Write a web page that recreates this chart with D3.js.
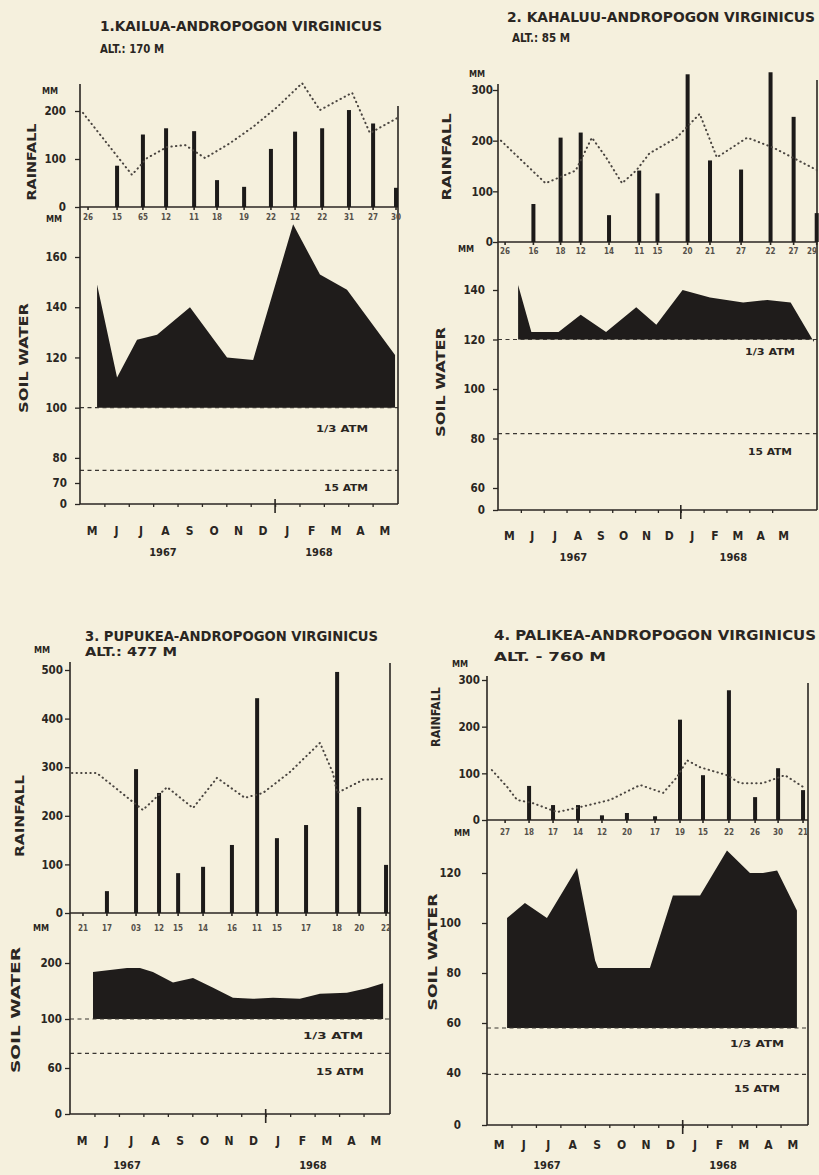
<!DOCTYPE html>
<html>
<head>
<meta charset="utf-8">
<script src="https://cdn.jsdelivr.net/npm/d3@7"></script>
<style>
  body { margin: 0; background: #f5f0dd; }
  svg text {
    font-family: "Liberation Sans Narrow", "DejaVu Sans Condensed", "Arial Narrow", sans-serif;
    font-weight: bold;
    fill: #2a2622;
  }
  .axis path.domain { display: none; }
  .axis line { stroke: #2a2622; stroke-width: 1.3; }
  .axis text { font-size: 11.5px; }
  .frame { stroke: #2a2622; stroke-width: 1.6; }
  .bar { fill: #1c1a19; }
  .soil { fill: #1f1c1b; }
  .normal { fill: none; stroke: #4a4540; stroke-width: 2; stroke-dasharray: 0.4 4.2; stroke-linecap: round; }
  .atm { stroke: #3a3632; stroke-width: 1.2; stroke-dasharray: 4 3.5; }
  .day { font-size: 8px; fill: #55504a; }
  .small { font-size: 9px; }
</style>
</head>
<body>
<svg id="fig" width="819" height="1175"></svg>
<script>
// month letters, May 1967 - May 1968
const months = ['M', 'J', 'J', 'A', 'S', 'O', 'N', 'D', 'J', 'F', 'M', 'A', 'M'];
const years = ['1967', '1968'];

// positions are in months from 1 May 1967

// 1. Kailua
const kailuaDays = ['26', '15', '65', '12', '11', '18', '19', '22', '12', '22', '31', '27', '30'];
const kailuaSamplePos = [0.33, 1.52, 2.58, 3.53, 4.68, 5.62, 6.73, 7.83, 8.82, 9.93, 11.03, 12.02, 12.96];
const kailuaRain = [0, 86, 151, 164, 158, 56, 42, 121, 157, 164, 202, 174, 40];
const kailuaNormalPos = [0.12, 2.13, 2.75, 3.57, 4.31, 5.13, 6.15, 7.10, 8.08, 9.11, 9.84, 11.16, 11.89, 13.0];
const kailuaNormal = [196, 67, 102, 125, 129, 102, 133, 167, 208, 258, 202, 238, 154, 185];
const kailuaSoilPos = [0.70, 1.52, 2.34, 3.16, 4.51, 6.03, 7.10, 8.74, 9.84, 10.95, 12.92];
const kailuaSoil = [149, 112, 127, 129, 140, 120, 119, 173, 153, 147, 121];

// 2. Kahaluu
const kahaluuDays = ['26', '16', '18', '12', '14', '11', '15', '20', '21', '27', '22', '27', '29'];
const kahaluuSamplePos = [0.31, 1.55, 2.74, 3.62, 4.86, 6.18, 6.98, 8.30, 9.28, 10.64, 11.93, 12.94, 13.95];
const kahaluuRain = [0, 75, 206, 216, 53, 141, 96, 331, 161, 143, 335, 247, 57];
const kahaluuNormalPos = [0.13, 2.08, 3.40, 4.11, 4.73, 5.43, 6.05, 6.63, 7.82, 8.83, 9.58, 10.91, 12.06, 14.0];
const kahaluuNormal = [200, 116, 141, 206, 167, 116, 141, 175, 206, 253, 167, 206, 186, 141];
const kahaluuSoilPos = [0.88, 1.46, 2.65, 3.62, 4.73, 6.05, 6.93, 8.08, 9.28, 10.73, 11.79, 12.81, 13.83];
const kahaluuSoil = [142, 123, 123, 130, 123, 133, 126, 140, 137, 135, 136, 135, 119];

// 3. Pupukea
const pupukeaDays = ['21', '17', '03', '12', '15', '14', '16', '11', '15', '17', '18', '20', '22'];
const pupukeaSamplePos = [0.53, 1.51, 2.70, 3.64, 4.42, 5.44, 6.62, 7.65, 8.46, 9.65, 10.92, 11.82, 12.92];
const pupukeaRain = [0, 45, 296, 247, 82, 95, 140, 442, 154, 181, 496, 218, 99];
const pupukeaNormalPos = [0.08, 1.10, 2.98, 3.97, 5.03, 6.01, 7.15, 7.89, 8.99, 10.22, 10.75, 10.92, 11.98, 12.76];
const pupukeaNormal = [288, 288, 212, 259, 216, 278, 237, 247, 290, 350, 288, 247, 274, 276];
const pupukeaSoilPos = [0.94, 2.33, 2.86, 3.39, 4.21, 5.03, 5.85, 6.66, 7.48, 8.30, 9.40, 10.22, 11.32, 12.14, 12.80];
const pupukeaSoil = [184, 191, 191, 184, 165, 173, 156, 138, 136, 138, 136, 145, 147, 155, 164];

// 4. Palikea
const palikeaDays = ['27', '18', '17', '14', '12', '20', '17', '19', '15', '22', '26', '30', '21'];
const palikeaSamplePos = [0.74, 1.72, 2.70, 3.72, 4.70, 5.72, 6.87, 7.89, 8.83, 9.89, 10.96, 11.90, 12.92];
const palikeaRain = [0, 73, 32, 32, 10, 15, 8, 215, 96, 278, 49, 111, 64];
const palikeaNormalPos = [0.20, 0.82, 1.23, 1.88, 2.86, 3.68, 5.03, 6.26, 7.20, 7.77, 8.18, 8.71, 9.81, 10.34, 11.28, 12.18, 12.92];
const palikeaNormal = [107, 71, 43, 36, 17, 26, 43, 75, 58, 92, 128, 113, 96, 79, 79, 96, 71];
const palikeaSoilPos = [0.82, 1.55, 2.45, 3.68, 4.42, 4.54, 6.66, 7.60, 8.71, 9.81, 10.75, 11.28, 11.86, 12.67];
const palikeaSoil = [102, 108, 102, 122, 85, 82, 82, 111, 111, 129, 120, 120, 121, 105];

const panels = [
  {
    title: '1.KAILUA-ANDROPOGON VIRGINICUS', alt: 'ALT.: 170 M',
    days: kailuaDays, samplePos: kailuaSamplePos, rain: kailuaRain,
    normalPos: kailuaNormalPos, normal: kailuaNormal,
    soilPos: kailuaSoilPos, soil: kailuaSoil,
    rainTicks: [0, 100, 200], soilTicks: [0, 70, 80, 100, 120, 140, 160],
    fieldCap: 100, wilt: 75,
    xRange: [80, 397], rightX: 398, frameTop: 84, rightTop: 106,
    rainDomain: [0, 200], rainRange: [207, 111],
    soilDomain: [0, 70, 160], soilRange: [504, 483, 257],
    rainPad: 9, soilPad: 8,
    title_: [100, 31, 282], alt_: [100, 53, 64],
    mmRain: [50, 94], mmDate: [54, 222], dateY: 220,
    rainLabel: [32, 162, 77], soilLabel: [24, 358, 110],
    monthY: 535, yearY: 556, yearPos: [3.4, 9.8],
    atmLabel: [342, 429, 52], wiltLabel: [346, 488, 44]
  },
  {
    title: '2. KAHALUU-ANDROPOGON VIRGINICUS', alt: 'ALT.: 85 M',
    days: kahaluuDays, samplePos: kahaluuSamplePos, rain: kahaluuRain,
    normalPos: kahaluuNormalPos, normal: kahaluuNormal,
    soilPos: kahaluuSoilPos, soil: kahaluuSoil,
    rainTicks: [0, 100, 200, 300], soilTicks: [0, 60, 80, 100, 120, 140],
    fieldCap: 120, wilt: 82,
    xRange: [498, 795], rightX: 817, frameTop: 84, rightTop: 80,
    rainDomain: [0, 300], rainRange: [242, 90],
    soilDomain: [0, 60, 140], soilRange: [510, 488, 290],
    rainPad: 0, soilPad: 8,
    title_: [507, 22, 308], alt_: [512, 42, 58],
    mmRain: [477, 77], mmDate: [466, 252], dateY: 254,
    rainLabel: [447, 157, 87], soilLabel: [441, 382, 110],
    monthY: 540, yearY: 561, yearPos: [3.3, 10.3],
    atmLabel: [770, 352, 50], wiltLabel: [770, 452, 44]
  },
  {
    title: '3. PUPUKEA-ANDROPOGON VIRGINICUS', alt: 'ALT.: 477 M',
    days: pupukeaDays, samplePos: pupukeaSamplePos, rain: pupukeaRain,
    normalPos: pupukeaNormalPos, normal: pupukeaNormal,
    soilPos: pupukeaSoilPos, soil: pupukeaSoil,
    rainTicks: [0, 100, 200, 300, 400, 500], soilTicks: [0, 60, 100, 200],
    fieldCap: 100, wilt: 72,
    xRange: [70, 388], rightX: 390, frameTop: 662, rightTop: 663,
    rainDomain: [0, 500], rainRange: [913, 670],
    soilDomain: [0, 60, 100, 200], soilRange: [1114, 1068, 1019, 963],
    rainPad: 2, soilPad: 3,
    title_: [85, 641, 293], alt_: [85, 656, 92],
    mmRain: [42, 653], mmDate: [41, 931], dateY: 931,
    rainLabel: [20, 816, 82], soilLabel: [16, 1010, 126],
    monthY: 1145, yearY: 1169, yearPos: [2.33, 9.93],
    atmLabel: [333, 1036, 60], wiltLabel: [340, 1072, 48]
  },
  {
    title: '4. PALIKEA-ANDROPOGON VIRGINICUS', alt: 'ALT. - 760 M',
    days: palikeaDays, samplePos: palikeaSamplePos, rain: palikeaRain,
    normalPos: palikeaNormalPos, normal: palikeaNormal,
    soilPos: palikeaSoilPos, soil: palikeaSoil,
    rainTicks: [0, 100, 200, 300], soilTicks: [0, 40, 60, 80, 100, 120],
    fieldCap: 58, wilt: 39,
    xRange: [487, 805], rightX: 808, frameTop: 676, rightTop: 683,
    rainDomain: [0, 300], rainRange: [820, 680],
    soilDomain: [0, 40, 140], soilRange: [1125, 1073, 823],
    rainPad: 2, soilPad: 21,
    title_: [494, 640, 322], alt_: [494, 661, 112],
    mmRain: [460, 667], mmDate: [462, 836], dateY: 835,
    rainLabel: [436, 717, 60], soilLabel: [433, 952, 117],
    monthY: 1149, yearY: 1169, yearPos: [2.45, 9.65],
    atmLabel: [757, 1044, 54], wiltLabel: [757, 1089, 46]
  }
];

const W = 819;
const svg = d3.select('#fig');

function drawPanel(p) {
  const g = svg.append('g');
  const x = d3.scaleLinear().domain([0, months.length]).range(p.xRange);
  const yR = d3.scaleLinear().domain(p.rainDomain).range(p.rainRange);
  const yS = d3.scaleLinear().domain(p.soilDomain).range(p.soilRange);
  const x0 = p.xRange[0];
  const yBottom = yS(0);

  // soil water above 1/3 atm
  const soilPts = d3.zip(p.soilPos, p.soil);
  g.append('path')
    .attr('class', 'soil')
    .attr('d', d3.area()
      .x(d => x(d[0]))
      .y0(yS(p.fieldCap))
      .y1(d => yS(d[1]))(soilPts));

  // 1/3 atm and 15 atm levels
  [p.fieldCap, p.wilt].forEach(v => {
    g.append('line').attr('class', 'atm')
      .attr('x1', x0).attr('x2', p.rightX)
      .attr('y1', yS(v)).attr('y2', yS(v));
  });

  // frame
  g.append('line').attr('class', 'frame')
    .attr('x1', x0).attr('x2', x0).attr('y1', p.frameTop).attr('y2', yBottom);
  g.append('line').attr('class', 'frame')
    .attr('x1', p.rightX).attr('x2', p.rightX).attr('y1', p.rightTop).attr('y2', yBottom);
  g.append('line').attr('class', 'frame')
    .attr('x1', x0).attr('x2', p.rightX).attr('y1', yR(0)).attr('y2', yR(0));
  g.append('line').attr('class', 'frame')
    .attr('x1', x0).attr('x2', p.rightX).attr('y1', yBottom).attr('y2', yBottom);

  // rainfall bars
  const samples = d3.zip(p.samplePos, p.rain, p.days);
  g.selectAll('rect.bar')
    .data(samples.filter(d => d[1] > 0))
    .join('rect')
      .attr('class', 'bar')
      .attr('x', d => x(d[0]) - 2)
      .attr('width', 4)
      .attr('y', d => yR(d[1]))
      .attr('height', d => yR(0) - yR(d[1]));

  // sampling dates below baseline
  g.selectAll('line.stick')
    .data(samples)
    .join('line')
      .attr('class', 'frame')
      .attr('x1', d => x(d[0])).attr('x2', d => x(d[0]))
      .attr('y1', yR(0)).attr('y2', yR(0) + 3);
  g.selectAll('text.day')
    .data(samples)
    .join('text')
      .attr('class', 'day')
      .attr('x', d => Math.min(x(d[0]), W - 7))
      .attr('y', p.dateY)
      .attr('text-anchor', 'middle')
      .text(d => d[2]);

  // long-term mean rainfall
  g.append('path')
    .attr('class', 'normal')
    .attr('d', d3.line().x(d => x(d[0])).y(d => yR(d[1]))(d3.zip(p.normalPos, p.normal)));

  // axes
  g.append('g').attr('class', 'axis')
    .attr('transform', `translate(${x0},0)`)
    .call(d3.axisLeft(yR).tickValues(p.rainTicks).tickSize(5).tickPadding(p.rainPad));
  g.append('g').attr('class', 'axis')
    .attr('transform', `translate(${x0},0)`)
    .call(d3.axisLeft(yS).tickValues(p.soilTicks).tickSize(5).tickPadding(p.soilPad));
  g.append('g').attr('class', 'axis')
    .attr('transform', `translate(0,${yBottom})`)
    .call(d3.axisBottom(x).tickValues(d3.range(1, months.length)).tickSize(3).tickFormat(''));

  // Dec / Jan separator
  g.append('line').attr('class', 'frame')
    .attr('x1', x(8)).attr('x2', x(8))
    .attr('y1', yBottom - 5).attr('y2', yBottom + 9);

  g.selectAll('text.month')
    .data(months)
    .join('text')
      .attr('x', (d, i) => x(i + 0.5))
      .attr('y', p.monthY)
      .attr('text-anchor', 'middle')
      .style('font-size', '12px')
      .text(d => d);
  g.selectAll('text.year')
    .data(years)
    .join('text')
      .attr('x', (d, i) => x(p.yearPos[i]))
      .attr('y', p.yearY)
      .attr('text-anchor', 'middle')
      .style('font-size', '11px')
      .text(d => d);

  // titles and labels
  g.append('text')
    .attr('x', p.title_[0]).attr('y', p.title_[1])
    .attr('textLength', p.title_[2]).attr('lengthAdjust', 'spacingAndGlyphs')
    .style('font-size', '14px')
    .text(p.title);
  g.append('text')
    .attr('x', p.alt_[0]).attr('y', p.alt_[1])
    .attr('textLength', p.alt_[2]).attr('lengthAdjust', 'spacingAndGlyphs')
    .style('font-size', '12px')
    .text(p.alt);

  [[p.mmRain, 'MM'], [p.mmDate, 'MM']].forEach(([pos, t]) => {
    g.append('text').attr('class', 'small')
      .attr('x', pos[0]).attr('y', pos[1])
      .attr('text-anchor', 'middle')
      .text(t);
  });

  [[p.rainLabel, 'RAINFALL'], [p.soilLabel, 'SOIL WATER']].forEach(([pos, t]) => {
    g.append('text')
      .attr('transform', `translate(${pos[0]},${pos[1]}) rotate(-90)`)
      .attr('text-anchor', 'middle')
      .attr('dy', '0.35em')
      .attr('textLength', pos[2]).attr('lengthAdjust', 'spacingAndGlyphs')
      .style('font-size', '12px')
      .text(t);
  });

  [[p.atmLabel, '1/3 ATM'], [p.wiltLabel, '15 ATM']].forEach(([pos, t]) => {
    g.append('text').attr('class', 'small')
      .attr('x', pos[0]).attr('y', pos[1])
      .attr('text-anchor', 'middle')
      .attr('dy', '0.35em')
      .attr('textLength', pos[2]).attr('lengthAdjust', 'spacingAndGlyphs')
      .text(t);
  });
}

panels.forEach(drawPanel);
</script>
</body>
</html>
